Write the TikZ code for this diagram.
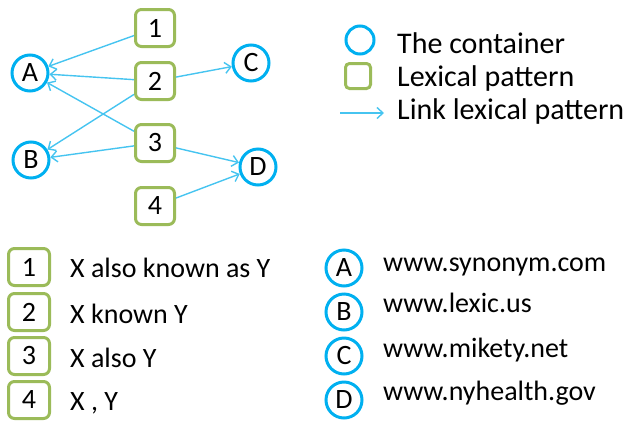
\documentclass[tikz,border=0pt]{standalone}
\usepackage{fontspec}
\setmainfont{Carlito}
\usetikzlibrary{arrows.meta}
\definecolor{ringblue}{RGB}{0,176,240}
\definecolor{boxgreen}{RGB}{155,187,89}
\definecolor{linkblue}{RGB}{70,196,240}
\tikzset{
  container/.style={circle,draw=ringblue,line width=3pt,minimum size=36pt,inner sep=0pt,font=\fontsize{28}{28}\selectfont},
  pattern/.style={rectangle,rounded corners=6pt,draw=boxgreen,line width=3pt,minimum width=39pt,minimum height=37pt,inner sep=0pt,font=\fontsize{28}{28}\selectfont},
  keyring/.style={circle,draw=ringblue,line width=3pt,minimum size=28pt,inner sep=0pt},
  keybox/.style={rectangle,rounded corners=4pt,draw=boxgreen,line width=3pt,minimum size=25pt,inner sep=0pt},
  link/.style={draw=linkblue,line width=1.4pt,-{Straight Barb[length=6pt,width=11pt,line width=1.4pt]}},
  legendtext/.style={anchor=base west,inner sep=0pt,font=\fontsize{30}{30}\selectfont},
  listtext/.style={anchor=base west,inner sep=0pt,font=\fontsize{28}{28}\selectfont},
}
\begin{document}
\begin{tikzpicture}[x=1pt,y=-1pt]
\useasboundingbox (0,0) rectangle (634,421);

% graph: containers and lexical patterns
\node[container] (A) at (30,73) {A};
\node[container] (B) at (31,160) {B};
\node[container] (C) at (251,63) {C};
\node[container] (D) at (258,167) {D};
\node[pattern] (p1) at (155,28) {1};
\node[pattern] (p2) at (155,81) {2};
\node[pattern] (p3) at (155,143) {3};
\node[pattern] (p4) at (155,206) {4};

\draw[link] (p1) -- (A);
\draw[link] (p2) -- (A);
\draw[link] (p3) -- (A);
\draw[link] (p2) -- (C);
\draw[link] (p2) -- (B);
\draw[link] (p3) -- (B);
\draw[link] (p3) -- (D);
\draw[link] (p4) -- (D);

% legend
\node[keyring] (kr) at (360,40) {};
\node[legendtext] (kt1) at (397,53) {The container};
\node[keybox] (kb) at (358,76) {};
\node[legendtext] (kt2) at (397,86) {Lexical pattern};
\coordinate (ks) at (340,113);
\coordinate (ke) at (384,113);
\draw[link,line width=1.2pt] (ks) -- (ke);
\node[legendtext] (kt3) at (397,119) {Link lexical pattern};

% list of lexical patterns
\node[pattern,minimum width=41pt] (q1) at (29,267) {1};
\node[pattern,minimum width=41pt] (q2) at (29,312) {2};
\node[pattern,minimum width=41pt] (q3) at (29,356) {3};
\node[pattern,minimum width=41pt] (q4) at (29,400) {4};
\node[listtext] (t1) at (70,277) {X also known as Y};
\node[listtext] (t2) at (70,323) {X known Y};
\node[listtext] (t3) at (70,367) {X also Y};
\node[listtext] (t4) at (70,410) {X , Y};

% list of containers
\node[container] (cA) at (344,268) {A};
\node[container] (cB) at (344,312) {B};
\node[container] (cC) at (344,356) {C};
\node[container] (cD) at (344,400) {D};
\node[listtext] (u1) at (383,271) {www.synonym.com};
\node[listtext] (u2) at (383,312) {www.lexic.us};
\node[listtext] (u3) at (383,357) {www.mikety.net};
\node[listtext] (u4) at (383,400) {www.nyhealth.gov};
\end{tikzpicture}
\end{document}
